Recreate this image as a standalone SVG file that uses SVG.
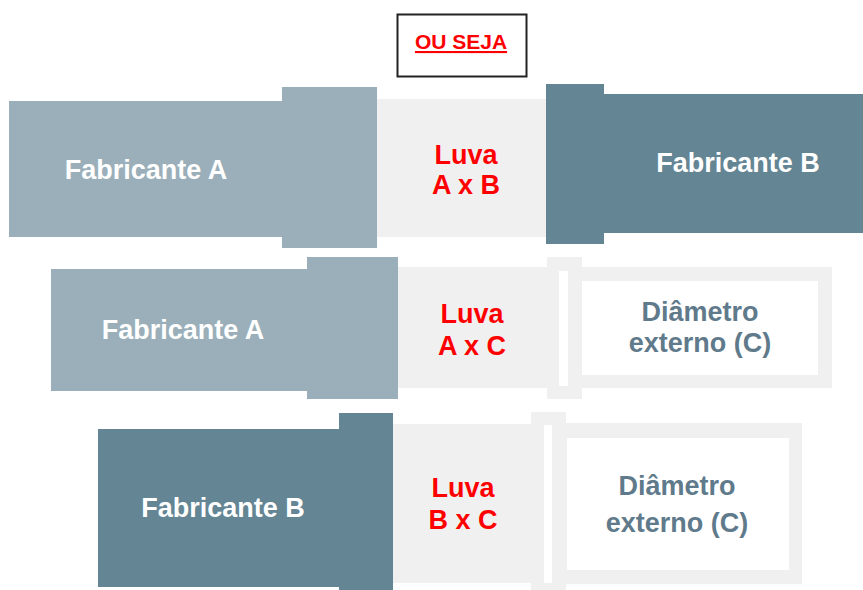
<svg xmlns="http://www.w3.org/2000/svg" width="863" height="590" viewBox="0 0 863 590">
<style>
.bg{fill:#ffffff}
.luva{fill:#f0f0f0}
.fa{fill:#9aafb9}
.fb{fill:#648593}
.wt{fill:#ffffff}
.lbl{font-family:"Liberation Sans",Arial,sans-serif;font-weight:bold;font-size:27px;text-anchor:middle}
.w{fill:#ffffff}
.r{fill:#ff0000}
.d{fill:#5f7a8b}
</style>
<rect class="bg" x="0" y="0" width="863" height="590"/>
<g id="title">
<rect x="397.5" y="14.5" width="129" height="62" fill="#ffffff" stroke="#222222" stroke-width="2"/>
<text x="461" y="49" font-family="'Liberation Sans',Arial,sans-serif" font-weight="bold" font-size="21" fill="#ff0000" text-anchor="middle" text-decoration="underline">OU SEJA</text>
</g>
<g id="connectors"></g>
<!-- Row 1 -->
<g id="luva-ab">
<rect class="luva" x="370" y="99" width="180" height="138"/>
<text class="lbl r" x="466" y="164">Luva</text>
<text class="lbl r" x="466" y="194">A x B</text>
</g>
<g id="fabricante-a-1">
<rect class="fa" x="9" y="101" width="275" height="136"/>
<rect class="fa" x="282" y="87" width="95" height="161"/>
<text class="lbl w" x="146" y="179">Fabricante A</text>
</g>
<g id="fabricante-b-1">
<rect class="fb" x="546" y="84" width="58" height="160"/>
<rect class="fb" x="602" y="94" width="261" height="139"/>
<text class="lbl w" x="738" y="172">Fabricante B</text>
</g>
<!-- Row 2 -->
<g id="luva-ac">
<rect class="luva" x="395" y="267" width="155" height="121"/>
<text class="lbl r" x="472" y="323">Luva</text>
<text class="lbl r" x="472" y="355">A x C</text>
</g>
<g id="fabricante-a-2">
<rect class="fa" x="51" y="269" width="258" height="122"/>
<rect class="fa" x="307" y="257" width="91" height="142"/>
<text class="lbl w" x="183" y="339">Fabricante A</text>
</g>
<g id="diametro-c-1">
<rect class="luva" x="547" y="257" width="35" height="142"/>
<rect class="wt" x="559" y="271" width="9" height="115"/>
<rect class="luva" x="580" y="267" width="252" height="121"/>
<rect class="wt" x="582" y="281" width="236" height="94"/>
<text class="lbl d" x="700" y="321">Diâmetro</text>
<text class="lbl d" x="700" y="352">externo (C)</text>
</g>
<!-- Row 3 -->
<g id="luva-bc">
<rect class="luva" x="390" y="424" width="143" height="159"/>
<text class="lbl r" x="463" y="497">Luva</text>
<text class="lbl r" x="463" y="529">B x C</text>
</g>
<g id="fabricante-b-2">
<rect class="fb" x="98" y="429" width="243" height="158"/>
<rect class="fb" x="339" y="413" width="54" height="177"/>
<text class="lbl w" x="223" y="517">Fabricante B</text>
</g>
<g id="diametro-c-2">
<rect class="luva" x="531" y="412" width="35" height="178"/>
<rect class="wt" x="544" y="425" width="8" height="158"/>
<rect class="luva" x="564" y="423" width="238" height="161"/>
<rect class="wt" x="567" y="438" width="222" height="132"/>
<text class="lbl d" x="677" y="495">Diâmetro</text>
<text class="lbl d" x="677" y="532">externo (C)</text>
</g>
</svg>
